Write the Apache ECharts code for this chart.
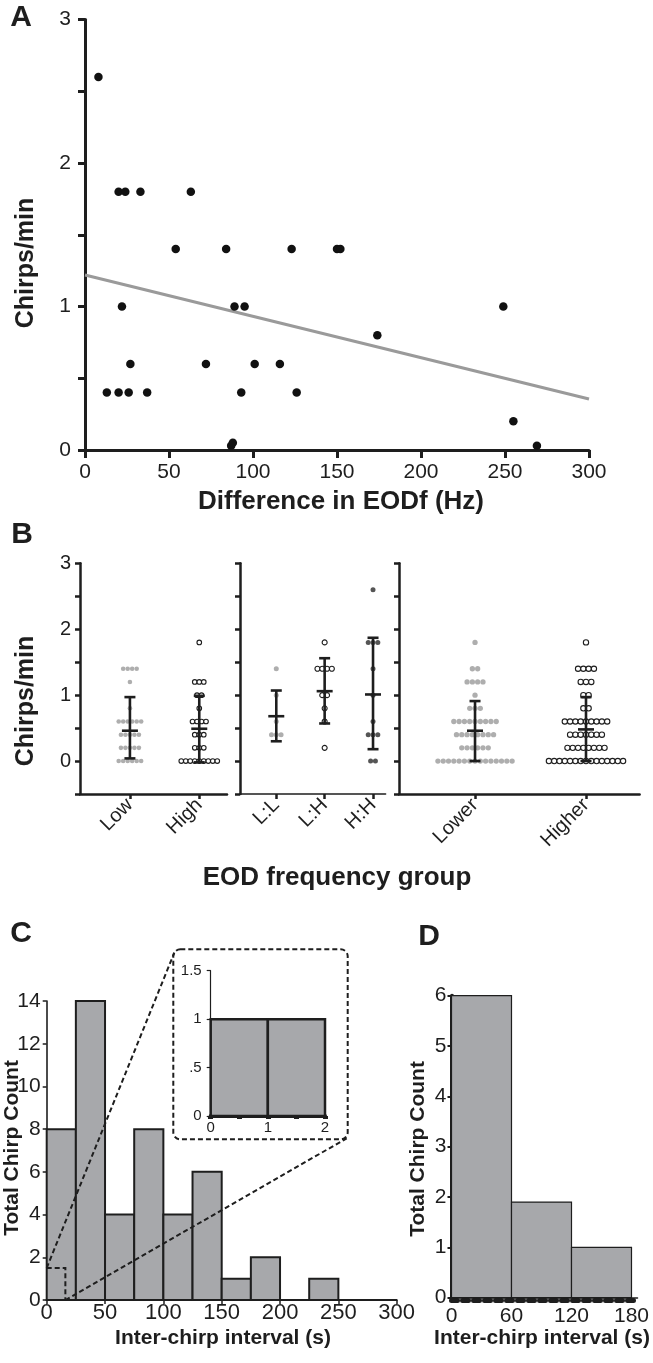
<!DOCTYPE html>
<html><head><meta charset="utf-8">
<script src="https://cdn.jsdelivr.net/npm/echarts@6/dist/echarts.min.js"></script>
<style>html,body{margin:0;padding:0;background:#fff}#c{width:653px;height:1363px}</style>
</head><body><div id="c"></div>
<script>
// ---------- Panel A data ----------
const diffHz  = [8,20,24,33,63,54,84,123,150,152,22,89,95,249,174,27,72,101,116,13,20,26,37,93,126,87,88,255,269];
const chirpsA = [2.6,1.8,1.8,1.8,1.8,1.4,1.4,1.4,1.4,1.4,1.0,1.0,1.0,1.0,0.8,0.6,0.6,0.6,0.6,0.4,0.4,0.4,0.4,0.4,0.4,0.03,0.05,0.2,0.03];
const regX = [0, 300];
const regY = [1.22, 0.355];
const aXTicks = [0,50,100,150,200,250,300];

// ---------- Panel B data ----------
const bCats1 = ['Low','High'];
const bCats2 = ['L:L','L:H','H:H'];
const bCats3 = ['Lower','Higher'];
const lowVals   = [1.4,1.4,1.4,1.4,1.2,0.8,0.6,0.6,0.6,0.6,0.6,0.6,0.4,0.4,0.4,0.4,0.4,0.2,0.2,0.2,0.2,0.2,0,0,0,0,0,0];
const highVals  = [1.8,1.2,1.2,1.2,1.0,1.0,0.8,0.6,0.6,0.6,0.6,0.4,0.4,0.4,0.2,0.2,0.2,0,0,0,0,0,0,0,0,0];
const llVals    = [1.4,1.0,0.6,0.4,0.4,0.4];
const lhVals    = [1.8,1.4,1.4,1.4,1.4,1.0,1.0,0.8,0.6,0.2];
const hhVals    = [2.6,1.8,1.8,1.8,1.4,1.0,0.6,0.4,0.4,0.4,0,0];
const lowerVals = [1.8,1.4,1.4,1.2,1.2,1.2,1.2,1.0,0.8,0.8,0.8,
  0.6,0.6,0.6,0.6,0.6,0.6,0.6,0.6,0.6, 0.4,0.4,0.4,0.4,0.4,0.4,0.4,0.4,
  0.2,0.2,0.2,0.2,0.2,0.2, 0,0,0,0,0,0,0,0,0,0,0,0,0,0,0];
const higherVals = [1.8,1.4,1.4,1.4,1.4,1.2,1.2,1.2,1.0,1.0,0.8,0.8,
  0.6,0.6,0.6,0.6,0.6,0.6,0.6,0.6,0.6, 0.4,0.4,0.4,0.4,0.4,0.4,0.4,
  0.2,0.2,0.2,0.2,0.2,0.2,0.2,0.2, 0,0,0,0,0,0,0,0,0,0,0,0,0,0,0];
// mean and error limits per group (Low, High, L:L, L:H, H:H, Lower, Higher)
const bMean  = [0.46, 0.49, 0.68, 1.06, 1.01, 0.46, 0.48];
const bLower = [0.04, -0.02, 0.30, 0.57, 0.18, 0.00, 0.00];
const bUpper = [0.97, 0.99, 1.07, 1.56, 1.87, 0.91, 0.97];
const bYLabels = [0,1,2,3];

// ---------- Panel C data ----------
const cBinStart = [0,25,50,75,100,125,150,175,200,225,250,275];
const cBinWidth = 25;
const cCounts   = [8,14,4,8,4,6,1,2,0,1,0,0];
const zoomBoxX  = [0, 16];
const zoomBoxY  = [0, 1.5];
const insetBinStart = [0, 1];
const insetBinWidth = 1;
const insetCounts   = [1, 1];

// ---------- Panel D data ----------
const dBinStart = [0, 60, 120];
const dBinWidth = 60;
const dCounts   = [6, 1.9, 1];
const dXTicks   = [0, 60, 120, 180];

// ---------- helpers ----------
const FONT = '"Liberation Sans", Arial, Helvetica, sans-serif';
const INK = '#1e1e1e';
const GRAYDOT = '#aeaeae';
const BARFILL = '#a7a8ab';

function swarm(vals, x, spacing){
  const counts = {}; vals.forEach(v => counts[v] = (counts[v] || 0) + 1);
  const seen = {};
  return vals.map(v => {
    const n = counts[v]; const i = (seen[v] = (seen[v] || 0) + 1) - 1;
    return {value:[x, v], symbolOffset:[(i - (n - 1) / 2) * spacing, 0]};
  });
}
function bScatter(vals, axis, x, kind, size, spacing){
  const st = kind === 'open' ? {color:'#fff', borderColor:INK, borderWidth:1.1, opacity:1}
           : {color: kind === 'dark' ? '#555' : GRAYDOT, opacity:1};
  return {type:'scatter', xAxisIndex:axis, yAxisIndex:axis, symbol:'circle', symbolSize:size,
    itemStyle:st, data:swarm(vals, x, spacing), z:3, silent:true};
}
function errSeries(axis, idxs){
  return {type:'custom', xAxisIndex:axis, yAxisIndex:axis, z:5, silent:true,
    data: idxs.map((g, k) => [k + 1, bMean[g], bLower[g], bUpper[g]]),
    renderItem(params, api){
      const x = api.value(0);
      const pT = api.coord([x, api.value(3)]), pB = api.coord([x, api.value(2)]), pM = api.coord([x, api.value(1)]);
      const st = {stroke:INK, lineWidth:2.6};
      const cw = 5.5, mw = 8;
      return {type:'group', children:[
        {type:'line', shape:{x1:pT[0], y1:pT[1], x2:pB[0], y2:pB[1]}, style:st},
        {type:'line', shape:{x1:pT[0]-cw, y1:pT[1], x2:pT[0]+cw, y2:pT[1]}, style:st},
        {type:'line', shape:{x1:pB[0]-cw, y1:pB[1], x2:pB[0]+cw, y2:pB[1]}, style:st},
        {type:'line', shape:{x1:pM[0]-mw, y1:pM[1], x2:pM[0]+mw, y2:pM[1]}, style:st}
      ]};
    }};
}
function histSeries(axis, starts, width, counts, lw){
  return {type:'custom', xAxisIndex:axis, yAxisIndex:axis, z:2, silent:true,
    data: starts.map((s, i) => [s, s + width, counts[i]]),
    renderItem(params, api){
      const c = api.value(2); if (!c) return null;
      const p0 = api.coord([api.value(0), c]), p1 = api.coord([api.value(1), 0]);
      return {type:'rect', shape:{x:p0[0], y:p0[1], width:p1[0]-p0[0], height:p1[1]-p0[1]},
        style:{fill:BARFILL, stroke:INK, lineWidth:lw}};
    }};
}
function lbl(size, extra){ return Object.assign({color:INK, fontSize:size, fontFamily:FONT}, extra || {}); }
function line(w){ return {show:true, onZero:false, lineStyle:{color:INK, width:w}}; }
function tick(len, w){ return {show:true, length:len, lineStyle:{color:INK, width:w}}; }
const noSplit = {show:false};

const chart = echarts.init(document.getElementById('c'), null, {renderer:'canvas'});
const bYfmt = v => (v >= 0 && bYLabels.includes(v)) ? String(v) : '';

const option = {
  animation:false,
  backgroundColor:'#fff',
  grid:[
    {left:85, top:19.5, width:504, height:430.5},     // A
    {left:80, top:563.3, width:147, height:230.7},    // B1
    {left:240, top:563.3, width:145.6, height:230.7}, // B2
    {left:399, top:563.3, width:240.6, height:230.7}, // B3
    {left:46.7, top:1001, width:350, height:299},     // C
    {left:210.7, top:970.7, width:114.3, height:145.3}, // inset
    {left:451.5, top:995.7, width:186, height:302}    // D
  ],
  xAxis:[
    {gridIndex:0, type:'value', min:0, max:300, interval:50, axisLine:line(3), axisTick:tick(8,3),
      axisLabel:lbl(21,{margin:12, formatter:v => aXTicks.includes(v) ? String(v) : ''}), splitLine:noSplit},
    {gridIndex:1, type:'value', min:0.28, max:2.4, axisLine:line(2.5),
      axisTick:Object.assign(tick(5,2.5), {customValues:[1,2]}),
      axisLabel:lbl(20,{customValues:[1,2], rotate:45, margin:8, formatter:v => bCats1[v-1] || ''}), splitLine:noSplit},
    {gridIndex:2, type:'value', min:0.25, max:3.26, axisLine:line(1.6),
      axisTick:Object.assign(tick(5,2.5), {customValues:[1,2,3]}),
      axisLabel:lbl(20,{customValues:[1,2,3], rotate:45, margin:8, formatter:v => bCats2[v-1] || ''}), splitLine:noSplit},
    {gridIndex:3, type:'value', min:0.315, max:2.483, axisLine:line(2.5),
      axisTick:Object.assign(tick(5,2.5), {customValues:[1,2]}),
      axisLabel:lbl(20,{customValues:[1,2], rotate:45, margin:8, formatter:v => bCats3[v-1] || ''}), splitLine:noSplit},
    {gridIndex:4, type:'value', min:0, max:300, interval:50, axisLine:line(2), axisTick:tick(4,1.5),
      axisLabel:lbl(22,{margin:2}), splitLine:noSplit},
    {gridIndex:5, type:'value', min:0, max:2, interval:0.5, axisLine:line(4), axisTick:tick(3,5),
      axisLabel:lbl(15,{margin:4, formatter:v => Number.isInteger(v) ? String(v) : ''}), splitLine:noSplit},
    {gridIndex:6, type:'value', min:0, max:186, axisLine:line(1.5), axisTick:{show:false},
      axisLabel:lbl(21,{margin:8, customValues:dXTicks}), splitLine:noSplit},
    {gridIndex:6, type:'value', min:0, max:186, position:'bottom', offset:3,
      axisLine:{show:true, onZero:false, lineStyle:{color:INK, width:5, type:[6,5]}},
      axisTick:{show:false}, axisLabel:{show:false}, splitLine:noSplit}
  ],
  yAxis:[
    {gridIndex:0, type:'value', min:0, max:3, interval:0.5, axisLine:line(3), axisTick:tick(7,3),
      axisLabel:lbl(21,{margin:14, formatter:v => Number.isInteger(v) ? String(v) : ''}), splitLine:noSplit},
    {gridIndex:1, type:'value', min:-0.5, max:3, interval:0.5, axisLine:line(2.5), axisTick:tick(5,2.5),
      axisLabel:lbl(20,{margin:9, formatter:bYfmt}), splitLine:noSplit},
    {gridIndex:2, type:'value', min:-0.5, max:3, interval:0.5, axisLine:line(2.5), axisTick:tick(5,2.5),
      axisLabel:{show:false}, splitLine:noSplit},
    {gridIndex:3, type:'value', min:-0.5, max:3, interval:0.5, axisLine:line(2.5), axisTick:tick(5,2.5),
      axisLabel:{show:false}, splitLine:noSplit},
    {gridIndex:4, type:'value', min:0, max:14, interval:2, axisLine:line(1.6), axisTick:tick(4,1.5),
      axisLabel:lbl(21,{margin:6}), splitLine:noSplit},
    {gridIndex:5, type:'value', min:0, max:1.5, interval:0.5, axisLine:line(1.2), axisTick:tick(4,1.2),
      axisLabel:lbl(15,{margin:9, formatter:v => v === 0 ? '0' : (v < 1 ? String(v).replace(/^0/, '') : String(v))}), splitLine:noSplit},
    {gridIndex:6, type:'value', min:0, max:6, interval:1, axisLine:line(4), axisTick:tick(4,2),
      axisLabel:lbl(21,{margin:5}), splitLine:noSplit}
  ],
  series:[
    {type:'line', xAxisIndex:0, yAxisIndex:0, data:regX.map((x, i) => [x, regY[i]]), symbol:'none',
      lineStyle:{color:'#9a9a9a', width:3}, z:2, silent:true},
    {type:'scatter', xAxisIndex:0, yAxisIndex:0, symbolSize:8.5, itemStyle:{color:'#111', opacity:1},
      data:diffHz.map((x, i) => [x, chirpsA[i]]), z:3, silent:true},
    bScatter(lowVals, 1, 1, 'gray', 4.6, 4.5),
    bScatter(highVals, 1, 2, 'open', 4.6, 4.5),
    bScatter(llVals, 2, 1, 'gray', 5, 4.8),
    bScatter(lhVals, 2, 2, 'open', 5, 4.8),
    bScatter(hhVals, 2, 3, 'dark', 5, 4.8),
    bScatter(lowerVals, 3, 1, 'gray', 5.3, 5.3),
    bScatter(higherVals, 3, 2, 'open', 5.3, 5.3),
    errSeries(1, [0,1]),
    errSeries(2, [2,3,4]),
    errSeries(3, [5,6]),
    histSeries(4, cBinStart, cBinWidth, cCounts, 2),
    histSeries(5, insetBinStart, insetBinWidth, insetCounts, 2.5),
    histSeries(6, dBinStart, dBinWidth, dCounts, 1.2),
    {type:'custom', xAxisIndex:4, yAxisIndex:4, z:6, silent:true,
      data:[[zoomBoxX[0], zoomBoxY[0], zoomBoxX[1], zoomBoxY[1]]],
      renderItem(params, api){
        const tl = api.coord([api.value(0), api.value(3)]);
        const br = api.coord([api.value(2), api.value(1)]);
        const st = {stroke:INK, lineWidth:2, lineDash:[5,3], fill:null};
        return {type:'group', children:[
          {type:'polyline', shape:{points:[[tl[0], tl[1]], [br[0], tl[1]], [br[0], br[1]]]}, style:st},
          {type:'line', shape:{x1:tl[0], y1:tl[1], x2:174.3, y2:952.7}, style:st},
          {type:'line', shape:{x1:br[0], y1:br[1], x2:346.7, y2:1138.3}, style:st}
        ]};
      }}
  ],
  graphic:[
    {type:'rect', shape:{x:173.3, y:949.3, width:174.4, height:190, r:7}, z:10,
      style:{fill:null, stroke:INK, lineWidth:2, lineDash:[5,3]}},
    {type:'text', x:21, y:18, style:{text:'A', font:'bold 30px ' + FONT, fill:INK, align:'center', verticalAlign:'middle'}},
    {type:'text', x:26, y:263, rotation:Math.PI/2, style:{text:'Chirps/min', font:'bold 25px ' + FONT, fill:INK, align:'center', verticalAlign:'middle'}},
    {type:'text', x:341, y:502, style:{text:'Difference in EODf (Hz)', font:'bold 26px ' + FONT, fill:INK, align:'center', verticalAlign:'middle'}},
    {type:'text', x:22, y:535, style:{text:'B', font:'bold 30px ' + FONT, fill:INK, align:'center', verticalAlign:'middle'}},
    {type:'text', x:26, y:701, rotation:Math.PI/2, style:{text:'Chirps/min', font:'bold 25px ' + FONT, fill:INK, align:'center', verticalAlign:'middle'}},
    {type:'text', x:337, y:878, style:{text:'EOD frequency group', font:'bold 26px ' + FONT, fill:INK, align:'center', verticalAlign:'middle'}},
    {type:'text', x:21, y:934, style:{text:'C', font:'bold 30px ' + FONT, fill:INK, align:'center', verticalAlign:'middle'}},
    {type:'text', x:429, y:937, style:{text:'D', font:'bold 30px ' + FONT, fill:INK, align:'center', verticalAlign:'middle'}},
    {type:'text', x:12, y:1148, rotation:Math.PI/2, style:{text:'Total Chirp Count', font:'bold 21px ' + FONT, fill:INK, align:'center', verticalAlign:'middle'}},
    {type:'text', x:418, y:1149, rotation:Math.PI/2, style:{text:'Total Chirp Count', font:'bold 21px ' + FONT, fill:INK, align:'center', verticalAlign:'middle'}},
    {type:'text', x:223, y:1338, style:{text:'Inter-chirp interval (s)', font:'bold 21px ' + FONT, fill:INK, align:'center', verticalAlign:'middle'}},
    {type:'text', x:542, y:1338, style:{text:'Inter-chirp interval (s)', font:'bold 21px ' + FONT, fill:INK, align:'center', verticalAlign:'middle'}}
  ]
};
chart.setOption(option);
</script>
</body></html>
